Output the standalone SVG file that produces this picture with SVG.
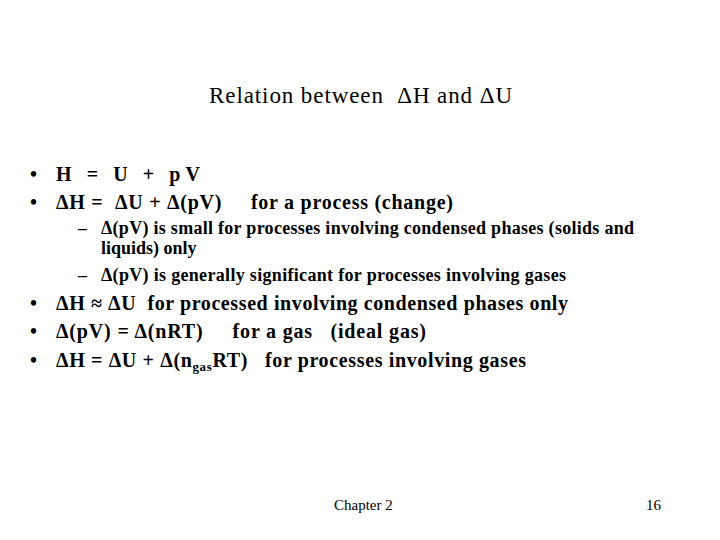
<svg xmlns="http://www.w3.org/2000/svg" width="720" height="540" viewBox="0 0 720 540">
<style>
text{font-family:"Liberation Serif","Times New Roman",serif;fill:#000;white-space:pre}
.t{font-size:23px}
.b{font-size:20px;font-weight:bold}
.s{font-size:18px;font-weight:bold}
.f{font-size:15px}
</style>
<rect width="720" height="540" fill="#fff"/>
<g id="title"><text class="t" x="209" y="103" textLength="303">Relation between  ΔH and ΔU</text></g>
<g id="body">
<text class="b" x="30" y="181">•</text><text class="b" x="56" y="181" textLength="144">H = U + pV</text>
<text class="b" x="30" y="209">•</text><text class="b" x="56" y="209" textLength="397">ΔH =  ΔU + Δ(pV)     for a process (change)</text>
<text class="s" x="78" y="234">–</text><text class="s" x="101" y="234" textLength="533">Δ(pV) is small for processes involving condensed phases (solids and</text>
<text class="s" x="101" y="254">liquids) only</text>
<text class="s" x="78" y="281">–</text><text class="s" x="101" y="281" textLength="465">Δ(pV) is generally significant for processes involving gases</text>
<text class="b" x="30" y="310">•</text><text class="b" x="56" y="310" textLength="512">ΔH ≈ ΔU  for processed involving condensed phases only</text>
<text class="b" x="30" y="338">•</text><text class="b" x="56" y="338" textLength="370">Δ(pV) = Δ(nRT)     for a gas   (ideal gas)</text>
<text class="b" x="30" y="367">•</text><text class="b" x="56" y="367" textLength="470">ΔH = ΔU + Δ(n<tspan font-size="13" dy="4">gas</tspan><tspan dy="-4">RT)   for processes involving gases</tspan></text>
</g>
<g id="footer">
<text class="f" x="334" y="510">Chapter 2</text>
<text class="f" x="646" y="510">16</text>
</g>
</svg>
